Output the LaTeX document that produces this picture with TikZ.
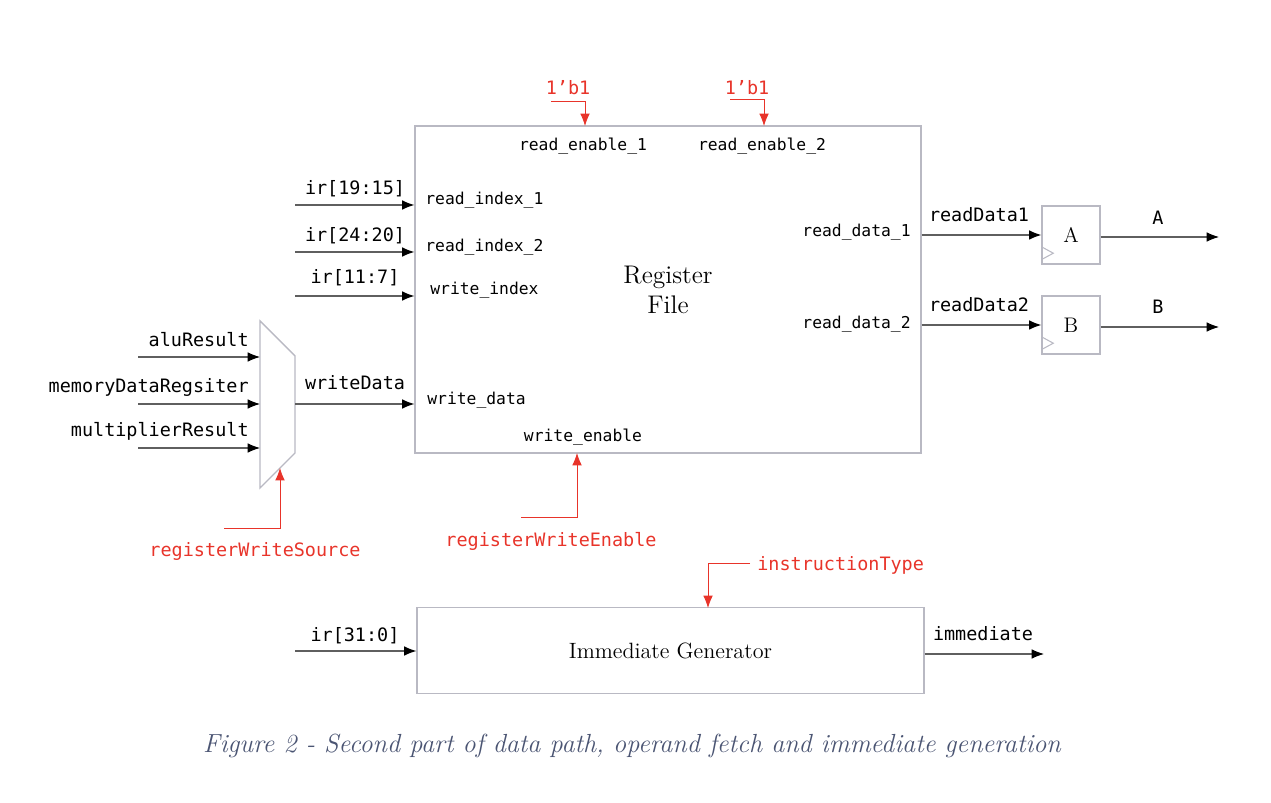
\documentclass[tikz,border=0pt]{standalone}
\usepackage{fontspec}
\newfontfamily\sigfont{DejaVu Sans Mono}
\usetikzlibrary{arrows.meta,positioning,calc}

\definecolor{ctlred}{RGB}{232,52,42}
\definecolor{boxgray}{RGB}{185,185,195}
\definecolor{wiregray}{RGB}{95,95,95}
\definecolor{capblue}{RGB}{75,85,115}

\tikzset{
  blk/.style={draw=boxgray, line width=0.8pt, inner sep=0pt},
  sig/.style={font=\sigfont\fontsize{10.5}{12}\selectfont, inner sep=0pt},
  port/.style={font=\sigfont\fontsize{9.3}{11}\selectfont, inner sep=0pt},
  ctl/.style={sig, text=ctlred},
  wire/.style={draw=wiregray, line width=0.6pt, -{Latex[length=7pt,width=5.5pt,color=black]}},
  ctlwire/.style={draw=ctlred, line width=0.5pt, -{Latex[length=7pt,width=5.5pt,color=ctlred]}},
}

\begin{document}
\begin{tikzpicture}[x=0.02cm, y=-0.02cm]
\useasboundingbox (0,0) rectangle (1271,803);

% Register file
\node[blk, minimum width=10.12cm, minimum height=6.54cm, align=center,
  font=\fontsize{14.5}{17}\selectfont] (rf) at (668,289.5) {Register\\File};

% Ports of the register file
\node[port, anchor=base] (re1) at (583,151) {read\_enable\_1};
\node[port, anchor=base] (re2) at (762,151) {read\_enable\_2};
\node[port, anchor=base west] (ri1) at (425,205) {read\_index\_1};
\node[port, anchor=base west] (ri2) at (425,252) {read\_index\_2};
\node[port, anchor=base west] (wi) at (430,295) {write\_index};
\node[port, anchor=base west] (wd) at (427,405) {write\_data};
\node[port, anchor=base] (we) at (583,442) {write\_enable};
\node[port, anchor=base east] (rd1) at (911,237) {read\_data\_1};
\node[port, anchor=base east] (rd2) at (911,329) {read\_data\_2};

% Read enables
\coordinate (re1src) at (551,101);
\coordinate (re1tip) at (585,126);
\coordinate (re2src) at (730,99);
\coordinate (re2tip) at (764,126);
\draw[ctlwire] (re1src) -| (re1tip);
\draw[ctlwire] (re2src) -| (re2tip);
\node[ctl, anchor=base] (one1) at (568,95) {1’b1};
\node[ctl, anchor=base] (one2) at (747,95) {1’b1};

% Index inputs
\coordinate (ri1src) at (295,205);
\coordinate (ri2src) at (295,252);
\coordinate (wisrc) at (295,296);
\draw[wire] (ri1src) -- (ri1src -| rf.west);
\draw[wire] (ri2src) -- (ri2src -| rf.west);
\draw[wire] (wisrc) -- (wisrc -| rf.west);
\node[sig, anchor=base] (irA) at (355,195) {ir[19:15]};
\node[sig, anchor=base] (irB) at (355,242) {ir[24:20]};
\node[sig, anchor=base] (irC) at (355,284) {ir[11:7]};

% Write data multiplexer
\coordinate (mxA) at (260,321);
\coordinate (mxB) at (295,356);
\coordinate (mxC) at (295,453);
\coordinate (mxD) at (260,488);
\draw[blk] (mxA) -- (mxB) -- (mxC) -- (mxD) -- cycle;

\coordinate (alusrc) at (138,357);
\coordinate (memsrc) at (138,404);
\coordinate (mulsrc) at (138,448);
\draw[wire] (alusrc) -- (alusrc -| mxA);
\draw[wire] (memsrc) -- (memsrc -| mxA);
\draw[wire] (mulsrc) -- (mulsrc -| mxA);
\node[sig, anchor=base east] (alu) at (249,347) {aluResult};
\node[sig, anchor=base east] (mem) at (249,393) {memoryDataRegsiter};
\node[sig, anchor=base east] (mul) at (249,437) {multiplierResult};

\coordinate (mxout) at (295,404);
\draw[wire] (mxout) -- (mxout -| rf.west);
\node[sig, anchor=base] (wdata) at (355,390) {writeData};

% Mux select
\coordinate (selsrc) at (224,528);
\coordinate (seltip) at (280,468);
\draw[ctlwire] (selsrc) -| (seltip);
\node[ctl, anchor=base] (rws) at (255,557) {registerWriteSource};

% Write enable
\coordinate (wesrc) at (521,517);
\coordinate (wetip) at (577,453);
\draw[ctlwire] (wesrc) -| (wetip);
\node[ctl, anchor=base] (rwe) at (551,546) {registerWriteEnable};

% Registers A and B
\node[blk, minimum size=1.16cm, font=\fontsize{12}{14}\selectfont] (regA) at (1071,235) {A};
\node[blk, minimum size=1.16cm, font=\fontsize{12}{14}\selectfont] (regB) at (1071,325) {B};
\draw[draw=boxgray, line width=0.6pt] ($(regA.south west)+(0,-18)$) -- ($(regA.south west)+(12,-11.5)$) -- ($(regA.south west)+(0,-5)$);
\draw[draw=boxgray, line width=0.6pt] ($(regB.south west)+(0,-18)$) -- ($(regB.south west)+(12,-11.5)$) -- ($(regB.south west)+(0,-5)$);

\coordinate (rd1src) at (rf.east |- regA.west);
\coordinate (rd2src) at (rf.east |- regB.west);
\draw[wire] (rd1src) -- (regA.west);
\draw[wire] (rd2src) -- (regB.west);
\node[sig, anchor=base] (rdA) at (979,222) {readData1};
\node[sig, anchor=base] (rdB) at (979,312) {readData2};

\coordinate (Aout) at (1219,237);
\coordinate (Bout) at (1219,327);
\draw[wire] (regA.east |- Aout) -- (Aout);
\draw[wire] (regB.east |- Bout) -- (Bout);
\node[sig, anchor=base] (outA) at (1158,225) {A};
\node[sig, anchor=base] (outB) at (1158,314) {B};

% Immediate generator
\node[blk, minimum width=10.14cm, minimum height=1.72cm,
  font=\fontsize{12.6}{15}\selectfont] (imm) at (670.5,650.5) {Immediate Generator};

\coordinate (irsrc) at (295,651);
\draw[wire] (irsrc) -- (irsrc -| imm.west);
\node[sig, anchor=base] (irD) at (355,641) {ir[31:0]};

\coordinate (immout) at (1044,654);
\draw[wire] (immout -| imm.east) -- (immout);
\node[sig, anchor=base] (immlbl) at (983,640) {immediate};

\coordinate (itsrc) at (750,563);
\coordinate (ittip) at (708,608);
\draw[ctlwire] (itsrc) -| (ittip);
\node[ctl, anchor=base west] (itype) at (757,570) {instructionType};

% Caption
\node[font=\itshape\fontsize{14.9}{18}\selectfont, text=capblue, anchor=base] (cap) at (632,752)
  {Figure 2 - Second part of data path, operand fetch and immediate generation};

\end{tikzpicture}
\end{document}
